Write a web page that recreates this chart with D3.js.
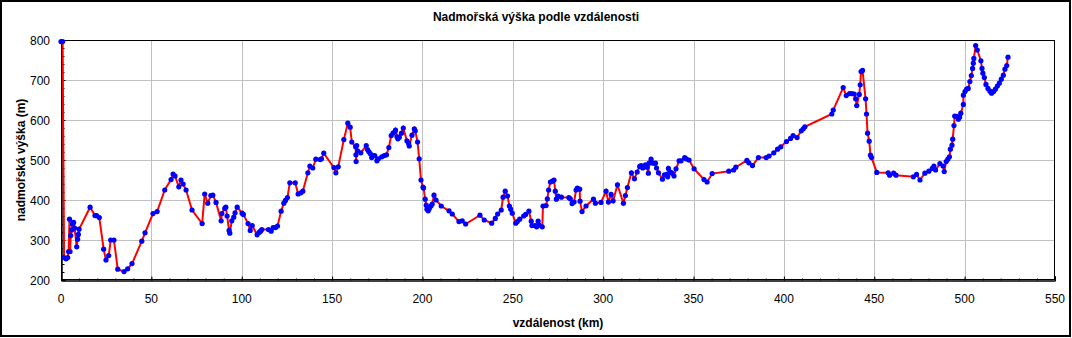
<!DOCTYPE html>
<html><head><meta charset="utf-8">
<script src="https://cdn.jsdelivr.net/npm/d3@7"></script>
<style>body{margin:0;background:#fff}svg{display:block}text{font-family:"Liberation Sans",Arial,sans-serif}</style>
</head><body><svg id="c" width="1072" height="338"></svg>
<script>
const titleText = "Nadmořská výška podle vzdálenosti";
const xLabel = "vzdálenost (km)";
const yLabel = "nadmořská výška (m)";
const xTicks = [0,50,100,150,200,250,300,350,400,450,500,550];
const yTicks = [200,300,400,500,600,700,800];
const distanceKm = [0,0.9,1.7,2.8,3.7,4.2,4.7,5.0,5.4,5.9,6.3,6.6,7.0,7.5,8.7,9.2,9.6,10.0,16.1,18.8,19.7,21.2,23.6,24.9,26.4,27.5,29.3,31.4,34.9,36.9,39.3,44.7,46.5,50.9,53.2,57.4,60.9,62.0,63.1,65.2,66.4,67.6,69.2,72.5,78.1,79.5,81.2,82.9,84.0,85.8,88.6,89.0,90.6,91.2,91.9,93.0,93.4,94.5,95.6,96.3,97.5,100.2,100.9,103.5,104.7,105.8,108.5,109.6,110.4,111.1,114.8,116.3,117.4,118.7,119.8,121.8,123.3,124.2,125.3,126.6,129.6,131.2,132.7,133.8,136.6,137.7,139.3,141.0,143.4,144.1,145.4,151.0,152.1,153.4,156.5,158.7,160.0,160.9,163.0,163.2,163.3,163.6,164.1,165.9,168.9,169.6,170.3,171.1,171.9,172.6,173.6,174.8,175.6,177.5,178.9,180.1,181.4,182.7,183.7,184.8,185.1,185.9,186.4,187.2,188.4,189.4,191.4,192.3,192.7,194.2,195.5,196.0,197.3,198.2,199.2,200.3,200.6,201.5,202.1,202.5,203.2,203.8,204.7,205.4,206.4,207.5,210.4,214.7,216.5,220.2,222.0,223.9,231.8,234.2,238.3,240.3,241.6,243.6,244.6,245.8,247.1,248.1,248.8,249.7,251.6,252.5,253.8,256.0,257.1,258.9,260.2,260.6,262.3,263.2,264.0,264.5,266.3,266.7,268.4,269.1,269.8,270.8,271.9,272.8,273.5,274.1,275.0,276.9,281.0,281.8,282.8,283.9,285.0,285.7,287.0,287.2,288.3,290.5,294.6,295.7,298.8,301.6,302.9,304.4,305.5,307.9,311.2,312.3,313.4,315.6,317.3,318.8,320.2,321.0,321.9,323.4,324.3,325.0,325.4,326.5,327.6,328.9,329.5,330.6,332.8,333.9,335.4,335.7,336.1,337.2,338.1,339.2,340.3,342.0,343.1,345.1,345.9,347.5,350.3,355.8,357.5,360.3,369.5,372.2,373.4,379.5,380.6,382.6,385.9,390.2,391.8,394.4,396.5,398.3,401.4,403.7,405.1,407.3,409.6,410.7,411.6,426.5,427.3,432.8,434.5,436.3,437.6,438.9,439.7,440.3,441.7,442.2,442.7,443.5,445.2,445.7,446.3,447.2,447.9,448.5,451.4,457.7,458.5,460.7,462.0,471.6,473.4,475.3,478.0,480.2,482.1,483.0,483.9,486.3,488.0,488.7,489.8,490.7,491.6,492.1,493.0,493.4,494.1,494.5,495.6,496.5,497.2,497.9,499.3,499.3,500.2,501.1,502.0,502.9,503.7,504.4,504.8,505.1,506.1,507.0,509.0,509.6,510.1,510.9,511.8,512.9,514.0,514.9,516.0,517.0,518.1,519.2,520.3,521.4,522.3,523.3,524.0];
const elevationM = [796,796,256,253,256,271,352,271,311,325,340,342,344,330,283,302,314,327,382,361,361,356,277,250,261,300,300,227,221,228,241,297,318,366,371,425,451,465,460,433,450,440,425,375,341,415,392,411,412,394,348,366,379,382,360,324,317,348,357,368,382,367,364,341,324,336,313,319,322,326,326,322,331,331,335,372,392,399,406,443,443,415,418,422,468,485,480,502,501,503,517,481,468,483,551,592,582,545,533,513,496,536,523,518,536,526,521,516,506,511,511,498,503,508,511,513,531,561,567,571,575,558,553,557,567,580,548,542,535,562,578,573,545,503,450,432,430,402,387,377,373,379,385,390,412,400,385,373,365,346,348,340,362,350,342,354,365,375,407,422,410,385,377,367,342,346,352,360,364,372,347,336,336,333,347,337,333,385,386,403,425,445,447,450,422,402,410,407,406,403,391,395,425,430,427,397,371,385,402,392,394,422,395,414,398,438,392,411,431,468,453,470,484,486,480,488,482,467,492,502,492,492,480,468,452,463,465,458,479,470,467,460,478,498,498,506,503,500,478,451,445,466,472,475,482,499,493,486,506,506,510,518,527,533,546,554,561,556,573,578,583,615,625,681,661,666,666,665,653,636,664,688,721,724,653,615,567,547,512,506,469,468,462,467,462,458,464,450,467,472,479,485,475,491,485,471,496,502,508,527,537,552,586,610,609,602,607,617,639,662,671,677,679,696,711,729,742,754,786,775,748,729,717,706,689,679,672,667,671,677,685,692,702,712,727,736,757];

const svg = d3.select("#c");
const L = 61, T = 40, R = 1055, B = 280;
const x = d3.scaleLinear().domain([0,550]).range([L,R]);
const y = d3.scaleLinear().domain([200,800]).range([B,T]);

svg.append("rect").attr("x",1).attr("y",1).attr("width",1069).attr("height",335)
  .attr("fill","#fff").attr("stroke","#000").attr("stroke-width",2);

// grid
const g = svg.append("g");
g.selectAll(".gx").data(xTicks.slice(1,-1)).join("line")
  .attr("x1",d=>Math.round(x(d))+0.5).attr("x2",d=>Math.round(x(d))+0.5)
  .attr("y1",T).attr("y2",B).attr("stroke","#c0c0c0");
g.selectAll(".gy").data(yTicks.slice(1,-1)).join("line")
  .attr("y1",d=>Math.round(y(d))+0.5).attr("y2",d=>Math.round(y(d))+0.5)
  .attr("x1",L).attr("x2",R).attr("stroke","#c0c0c0");

// frame
svg.append("rect").attr("x",L+0.5).attr("y",T+0.5).attr("width",R-L-1).attr("height",B-T-1)
  .attr("fill","none").attr("stroke","#000");

// axes
const xAxis = d3.axisTop(x).tickValues(xTicks).tickSize(4).tickFormat("");
const xMinor = d3.axisTop(x).tickValues(d3.range(0,551,10)).tickSize(2).tickFormat("");
const yAxis = d3.axisRight(y).tickValues(yTicks).tickSize(4).tickFormat("");
const yMinor = d3.axisRight(y).tickValues(d3.range(200,801,20)).tickSize(3).tickFormat("");
[[xAxis,`translate(0,${B+0.5})`],[xMinor,`translate(0,${B+0.5})`],[yAxis,`translate(${L+0.5},0)`],[yMinor,`translate(${L+0.5},0)`]].forEach(([a,t])=>{
  const ax = svg.append("g").attr("transform",t).call(a);
  ax.select(".domain").attr("stroke","#000");
  ax.selectAll(".tick line").attr("stroke","#000");
});

// tick labels
svg.selectAll(".xl").data(xTicks).join("text")
  .attr("x",d=>x(d)).attr("y",303).attr("text-anchor","middle")
  .attr("font-size",12).text(d=>d);
svg.selectAll(".yl").data(yTicks).join("text")
  .attr("x",50).attr("y",d=>y(d)+4.5).attr("text-anchor","end")
  .attr("font-size",12).text(d=>d);

// titles
svg.append("text").attr("x",536).attr("y",21).attr("text-anchor","middle")
  .attr("font-size",12).attr("font-weight","bold").text(titleText);
svg.append("text").attr("x",(L+R)/2).attr("y",327).attr("text-anchor","middle")
  .attr("font-size",12).attr("font-weight","bold").text(xLabel);
svg.append("text").attr("transform",`translate(25,${(T+B)/2}) rotate(-90)`).attr("text-anchor","middle")
  .attr("font-size",12).attr("font-weight","bold").text(yLabel);

// data
const pts = distanceKm.map((d,i)=>[d,elevationM[i]]);
svg.append("path").datum(pts)
  .attr("d",d3.line().x(d=>x(d[0])).y(d=>y(d[1])))
  .attr("fill","none").attr("stroke","#ff0000").attr("stroke-width",2);
svg.selectAll(".pt").data(pts).join("circle")
  .attr("cx",d=>x(d[0])).attr("cy",d=>y(d[1])).attr("r",2.6).attr("fill","#0000ff");
</script></body></html>
